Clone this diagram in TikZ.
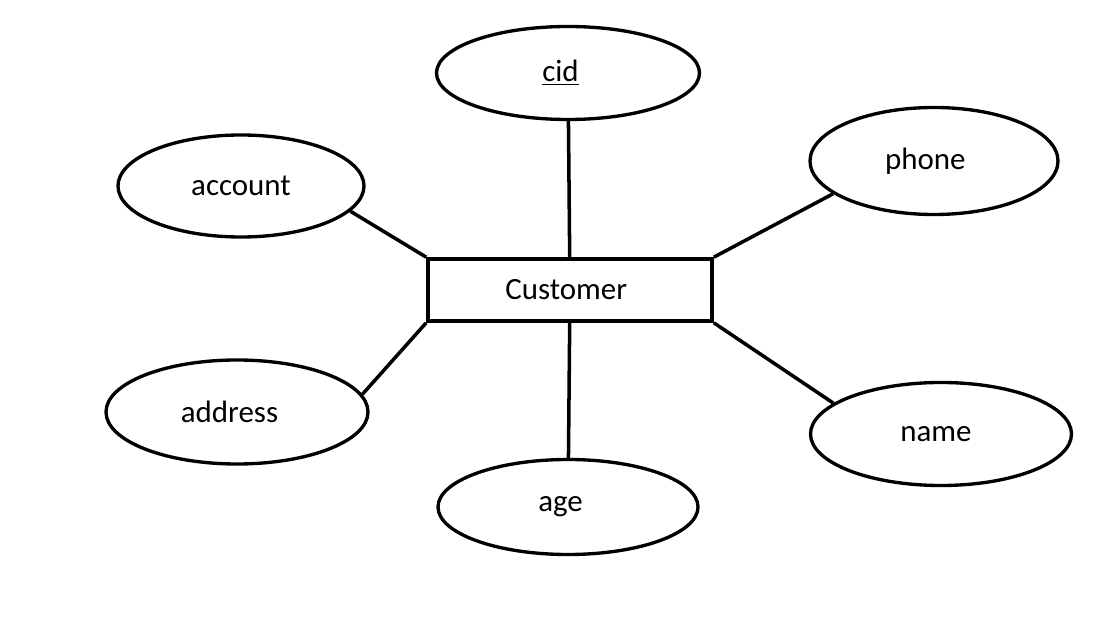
\documentclass[tikz,border=0pt]{standalone}
\usepackage{fontspec}
\setmainfont{Carlito}
\usetikzlibrary{shapes.geometric}

\begin{document}
\begin{tikzpicture}[
  % Node styles
  entity/.style={
    rectangle,
    draw=black,
    line width=2.1pt,
    minimum width=5.68cm,
    minimum height=1.24cm,
    inner sep=0pt,
    font=\fontsize{17.6}{20}\selectfont,
  },
  attribute/.style={
    ellipse,
    draw=black,
    line width=1.9pt,
    inner sep=0pt,
    font=\fontsize{17.6}{20}\selectfont,
  },
  % Edge style
  link/.style={
    draw=black,
    line width=2pt,
  },
]

  % Page size (1108 x 632 px at 0.02 cm per px)
  \useasboundingbox (0,0) rectangle (22.16,12.64);

  % Entity
  \node[entity] (cust) at (11.40, 6.84) {Customer\kern0.15cm};

  % Attributes
  \node[attribute, minimum width=5.26cm, minimum height=1.86cm] (cid)     at (11.36, 11.18) {\underline{cid}\kern0.3cm};
  \node[attribute, minimum width=4.96cm, minimum height=2.14cm] (phone)   at (18.68, 9.42)  {phone\kern0.35cm};
  \node[attribute, minimum width=4.92cm, minimum height=2.04cm] (account) at (4.82, 8.92)   {account};
  \node[attribute, minimum width=5.24cm, minimum height=2.08cm] (address) at (4.74, 4.40)   {address\kern0.3cm};
  \node[attribute, minimum width=5.22cm, minimum height=2.06cm] (name)    at (18.82, 3.96)  {name\kern0.2cm};
  \node[attribute, minimum width=5.20cm, minimum height=1.90cm] (age)     at (11.36, 2.50)  {age\kern0.3cm};

  % Edges: attributes -> entity
  \draw[link] (cid) -- (cust);
  \draw[link] (phone.198) -- (cust.north east);
  \draw[link] (account.-13) -- (cust.north west);
  \draw[link] (address.8) -- (cust.south west);
  \draw[link] (name.164) -- (cust.south east);
  \draw[link] (cust) -- (age);

\end{tikzpicture}
\end{document}
